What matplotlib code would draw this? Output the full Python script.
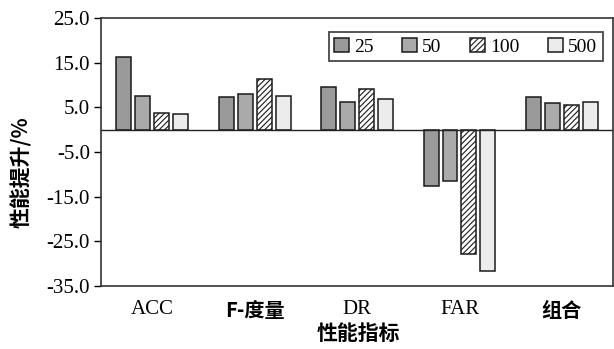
import matplotlib
matplotlib.use("Agg")
import matplotlib.pyplot as plt
import numpy as np

# ── Data ──────────────────────────────────────────────────────────────────────

CATEGORIES = ["ACC", "F-度量", "DR", "FAR", "组合"]
SERIES     = ["25", "50", "100", "500"]

VALS_25  = [16.3, 7.2, 9.6, -12.6, 7.3]
VALS_50  = [7.6, 7.9, 6.3, -11.5, 5.9]
VALS_100 = [3.8, 11.3, 9.1, -27.8, 5.5]
VALS_500 = [3.6, 7.6, 6.9, -31.6, 6.3]

Y_TICKS = [25.0, 15.0, 5.0, -5.0, -15.0, -25.0, -35.0]

# ── Style ─────────────────────────────────────────────────────────────────────

SERIF = ["Liberation Serif", "DejaVu Serif"]
CJK   = ["Noto Sans CJK SC", "DejaVu Sans"]

plt.rcParams.update({
    "font.family":     SERIF,
    "hatch.linewidth": 0.8,
    "hatch.color":     "#333333",
})

STYLES = [
    dict(color="#9a9a9a", hatch=None),
    dict(color="#aaaaaa", hatch=None),
    dict(color="#ffffff", hatch="//////"),
    dict(color="#ececec", hatch=None),
]

fig = plt.figure(figsize=(6.14, 3.49), dpi=100)
ax = fig.add_axes([0.1645, 0.1805, 0.834, 0.768])

x = np.arange(len(CATEGORIES))
step  = 0.185
width = 0.146
offsets = (np.arange(4) - 1.5) * step

for vals, name, off, st in zip([VALS_25, VALS_50, VALS_100, VALS_500],
                               SERIES, offsets, STYLES):
    ax.bar(x + off, vals, width, label=name, color=st["color"],
           hatch=st["hatch"], edgecolor="#1a1a1a", linewidth=1.1)

ax.axhline(0, color="#222222", linewidth=1.0)

ax.set_xlim(-0.5, len(CATEGORIES) - 0.5)
ax.set_ylim(-35, 25)
ax.set_yticks(Y_TICKS)
ax.set_yticklabels([f"{v:.1f}" for v in Y_TICKS], fontsize=15)
ax.tick_params(axis="y", direction="out", length=5, width=1, pad=3)

ax.set_xticks(x)
ax.set_xticklabels(CATEGORIES)
ax.tick_params(axis="x", length=0, pad=10)
for lab in ax.get_xticklabels():
    if lab.get_text() in ("ACC", "DR", "FAR"):
        lab.set_fontfamily(SERIF)
        lab.set_fontsize(15)
    else:
        lab.set_fontfamily(CJK)
        lab.set_fontsize(14.5)
        lab.set_fontweight("bold")

for sp in ax.spines.values():
    sp.set_linewidth(1.2)
    sp.set_color("#333333")

ax.set_xlabel("性能指标", family=CJK, fontsize=15, fontweight="bold", va="center")
ax.xaxis.set_label_coords(0.502, -0.176)
ax.set_ylabel("性能提升/%", family=CJK, fontsize=15, fontweight="bold", va="center")
ax.yaxis.set_label_coords(-0.156, 0.425)

leg = ax.legend(ncol=4, loc="upper right", bbox_to_anchor=(0.98, 0.948),
                borderaxespad=0, fancybox=False, edgecolor="#1a1a1a",
                handlelength=0.75, handleheight=0.75, handletextpad=0.25,
                columnspacing=1.5, fontsize=14, borderpad=0.3)
leg.get_frame().set_linewidth(1.3)

fig.savefig("out.png", dpi=100)
